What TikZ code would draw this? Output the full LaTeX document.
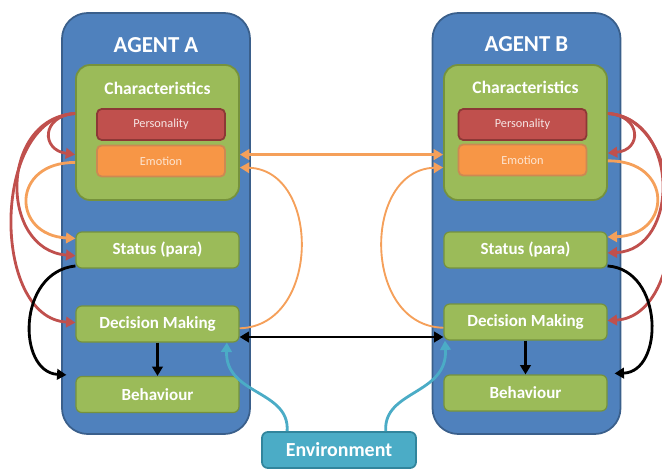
\documentclass[tikz,border=0pt]{standalone}
\usepackage{fontspec}
\setmainfont{Carlito}
\usetikzlibrary{arrows.meta,calc}

\definecolor{agentblue}{HTML}{4F81BD}
\definecolor{agentedge}{HTML}{3A5F8B}
\definecolor{boxgreen}{HTML}{9BBB59}
\definecolor{greenedge}{HTML}{76923C}
\definecolor{persred}{HTML}{C0504D}
\definecolor{persedge}{HTML}{8C3836}
\definecolor{emoorange}{HTML}{F79646}
\definecolor{emoedge}{HTML}{B65708}
\definecolor{envteal}{HTML}{4BACC6}
\definecolor{envedge}{HTML}{31859C}
\definecolor{linkred}{HTML}{C0504D}
\definecolor{linkorange}{HTML}{F5A05A}
\definecolor{linkteal}{HTML}{4BACC6}

\begin{document}
\begin{tikzpicture}[
    x=0.03cm, y=-0.03cm,
    agent/.style={draw=agentedge, line width=1.5pt, fill=agentblue,
                  rounded corners=22pt, minimum width=5.64cm, minimum height=12.63cm},
    charbox/.style={draw=greenedge, line width=1.5pt, fill=boxgreen,
                    rounded corners=12pt, minimum width=4.89cm, minimum height=4.05cm},
    trait/.style={line width=1.5pt, rounded corners=4pt,
                  minimum width=3.84cm, minimum height=0.93cm, font=\fontsize{10.5}{12}\selectfont},
    stage/.style={draw=greenedge, line width=1pt, fill=boxgreen, text=white,
                  rounded corners=5pt, minimum width=4.89cm, minimum height=1.08cm,
                  font=\bfseries\fontsize{14.5}{16}\selectfont},
    title/.style={text=white, font=\bfseries\fontsize{19.5}{22}\selectfont},
    subtitle/.style={text=white, font=\bfseries\fontsize{15}{17}\selectfont},
    arr/.style={->, >={Triangle[length=8pt,width=9pt]}, line width=2.4pt},
    dbl/.style={<->, >={Triangle[length=8pt,width=9pt]}, line width=2.4pt}
]
\useasboundingbox (0,0) rectangle (662,469);

% agent A
\node[agent] (agA) at (156,223.5) {};
\node[title] (agAtxt) at (156,45) {AGENT A};
\node[charbox] (charA) at (157.5,132.5) {};
\node[subtitle] (charAtxt) at (157.5,88) {Characteristics};
\node[trait, draw=persedge, fill=persred, text=white!85!persred] (persA) at (161,124.5) {Personality};
\node[trait, draw=emoedge!70, fill=emoorange, text=white!75!emoorange] (emoA) at (161,161) {Emotion};
\node[stage] (statA) at (157.5,250) {Status (para)};
\node[stage] (decA) at (157.5,324) {Decision Making};
\node[stage] (behA) at (157.5,394.5) {Behaviour};

% agent B
\node[agent] (agB) at (526.5,223.5) {};
\node[title] (agBtxt) at (526.5,44) {AGENT B};
\node[charbox] (charB) at (525.5,132.5) {};
\node[subtitle] (charBtxt) at (525.5,87) {Characteristics};
\node[trait, draw=persedge, fill=persred, text=white!85!persred] (persB) at (522.5,124.5) {Personality};
\node[trait, draw=emoedge!70, fill=emoorange, text=white!75!emoorange] (emoB) at (522.5,160) {Emotion};
\node[stage] (statB) at (525.5,250) {Status (para)};
\node[stage] (decB) at (525.5,322) {Decision Making};
\node[stage] (behB) at (525.5,393) {Behaviour};

% environment
\node[draw=envedge, line width=1.5pt, fill=envteal, text=white, rounded corners=5pt,
      minimum width=4.62cm, minimum height=1.08cm,
      font=\bfseries\fontsize{17}{19}\selectfont] (env) at (339,450) {Environment};

% links on the left of A
\draw[arr, linkred] (charA.167) .. controls (41,116) and (41,150) .. (charA.195);
\draw[arr, linkred] (charA.167) .. controls (-1,118) and (-1,250) .. (statA.184);
\draw[arr, linkred] (charA.167) .. controls (-9,118) and (-9,318) .. (decA.179);
\draw[arr, linkorange] (charA.200) .. controls (11,162) and (11,235) .. (statA.172);
\draw[arr, black] (statA.191) .. controls (17,272) and (17,372) .. ($(behA.north west)+(-9,-1)$);
\draw[arr, black] (decA.south) -- (behA.north);

% links on the right of B
\draw[arr, linkred] (charB.13) .. controls (642,116) and (642,150) .. (charB.-14);
\draw[arr, linkred] (charB.13) .. controls (680,118) and (680,250) .. (statB.-2);
\draw[arr, linkred] (charB.13) .. controls (691,118) and (691,316) .. (decB.1);
\draw[arr, linkorange] (charB.-19) .. controls (673,160) and (673,235) .. (statB.9);
\draw[arr, black] (statB.-11) .. controls (664,270) and (664,372) .. ($(behB.north east)+(7,-1)$);
\draw[arr, black] (decB.south) -- (behB.north);

% links between the agents
\draw[dbl, linkorange] (charA.-15) -- (charA.-15 -| charB.west);
\draw[dbl, black] (decA.-9) -- (decA.-9 -| decB.west);
\draw[arr, linkorange, line width=1.6pt] (decA.-3) .. controls (321,326) and (321,170) .. (charA.-23);
\draw[arr, linkorange, line width=1.6pt] (decB.184) .. controls (362,326) and (362,170) .. (charB.203);

% environment feeds both decisions
\draw[arr, linkteal] (env.160) .. controls (290,390) and (225,395) .. (decA.-15);
\draw[arr, linkteal] (env.22) .. controls (383,390) and (448,395) .. (decB.193);
\end{tikzpicture}
\end{document}
